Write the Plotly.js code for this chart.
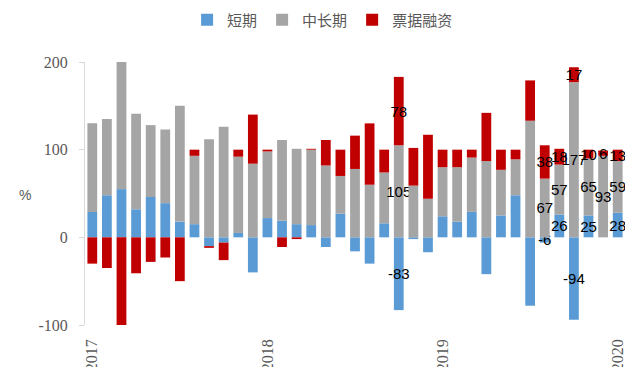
<!DOCTYPE html>
<html>
<head>
<meta charset="utf-8">
<script src="https://cdn.plot.ly/plotly-3.0.1.min.js"></script>
<style>
html,body{margin:0;padding:0;background:#fff;}
#chart{width:637px;height:367px;}
</style>
</head>
<body>
<div id="chart"></div>
<script>
// Months (categories)
var months = [
  '2017-01','2017-02','2017-03','2017-04','2017-05','2017-06','2017-07','2017-08','2017-09','2017-10','2017-11','2017-12',
  '2018-01','2018-02','2018-03','2018-04','2018-05','2018-06','2018-07','2018-08','2018-09','2018-10','2018-11','2018-12',
  '2019-01','2019-02','2019-03','2019-04','2019-05','2019-06','2019-07','2019-08','2019-09','2019-10','2019-11','2019-12',
  '2020-01'
];
// Series values (%)
var shortTerm = [29, 48, 55, 32, 46, 39, 18, 15, -10, -6, 5, -40,
                 22, 19, 15, 14, -11, 27, -16, -30, 16, -83, -2, -17,
                 24, 18, 29, -42, 25, 48, -78, -6, 26, -94, 25, 0,
                 28];
var midLong   = [101, 87, 145, 109, 82, 84, 132, 78, 112, 126, 87, 84,
                 76, 92, 86, 86, 82, 43, 78, 60, 58, 105, 59, 44,
                 56, 62, 62, 87, 52, 41, 133, 67, 57, 177, 65, 93,
                 59];
var billFin   = [-30, -35, -100, -41, -28, -23, -50, 7, -2, -20, 8, 56,
                 2, -11, -2, 1, 29, 30, 38, 70, 26, 78, 43, 73,
                 20, 20, 9, 55, 23, 11, 46, 38, 18, 17, 10, 6,
                 13];
var seriesNames = ['短期', '中长期', '票据融资'];
var seriesColors = ['#5B9BD5', '#A5A5A5', '#C00000'];
// Months whose values carry data labels
var labeledMonths = ['2018-10','2019-08','2019-09','2019-10','2019-11','2019-12','2020-01'];
var yearTicks = ['2017-01','2018-01','2019-01','2020-01'];
var yearLabels = ['2017','2018','2019','2020'];
var yTickVals = [-100, 0, 100, 200];
var yTickText = ['-100', '0', '100', '200'];

function labels(vals) {
  return vals.map(function (v, i) {
    return (labeledMonths.indexOf(months[i]) >= 0 && v !== 0) ? String(v) : '';
  });
}

var all = [shortTerm, midLong, billFin];
var traces = all.map(function (vals, k) {
  return {
    type: 'bar',
    name: seriesNames[k],
    x: months,
    y: vals,
    text: labels(vals),
    textposition: 'inside',
    insidetextanchor: 'middle',
    textangle: 0,
    textfont: {family: 'Liberation Sans, Arial, sans-serif', size: 15, color: '#000'},
    marker: {color: seriesColors[k]},
    hoverinfo: 'skip'
  };
});

var layout = {
  width: 637, height: 367,
  margin: {l: 85, r: 12, t: 62, b: 42, autoexpand: false},
  paper_bgcolor: '#fff', plot_bgcolor: '#fff',
  barmode: 'relative',
  bargap: 0.33,
  uniformtext: {mode: 'show', minsize: 15},
  showlegend: true,
  legend: {
    orientation: 'h', x: 0.44, xanchor: 'center', y: 1.16, yanchor: 'middle',
    font: {family: 'Noto Sans CJK SC, sans-serif', size: 15, color: '#595959'},
    traceorder: 'normal'
  },
  xaxis: {
    type: 'category',
    range: [-0.5, 36.5],
    tickvals: yearTicks, ticktext: yearLabels,
    tickangle: -90,
    ticks: '', ticklabelstandoff: 10,
    showline: false, showgrid: false, zeroline: false,
    tickfont: {family: 'Liberation Serif, Times New Roman, serif', size: 16, color: '#595959'}
  },
  xaxis2: {
    overlaying: 'x', anchor: 'free', position: 1/3,
    type: 'linear', range: [-0.5, 36.5],
    tickvals: [-0.5, 11.5, 23.5, 35.5],
    ticks: 'outside', ticklen: 5, tickcolor: '#d9d9d9',
    showticklabels: false, showline: true, linecolor: '#d9d9d9', linewidth: 1,
    showgrid: false, zeroline: false
  },
  yaxis: {
    range: [-100, 200],
    tickvals: yTickVals, ticktext: yTickText,
    ticks: 'outside', ticklen: 5, tickcolor: '#d9d9d9',
    showline: true, linecolor: '#d9d9d9', linewidth: 1,
    showgrid: false, zeroline: false,
    ticklabelstandoff: 8,
    tickfont: {family: 'Liberation Serif, Times New Roman, serif', size: 16, color: '#595959'}
  },
  annotations: [{
    text: '%', xref: 'paper', yref: 'paper', x: -0.111, y: 0.495,
    showarrow: false, xanchor: 'center', yanchor: 'middle',
    font: {family: 'Liberation Sans, sans-serif', size: 14, color: '#595959'}
  }]
};

Plotly.newPlot('chart', traces, layout, {displayModeBar: false, staticPlot: true});
</script>
</body>
</html>
